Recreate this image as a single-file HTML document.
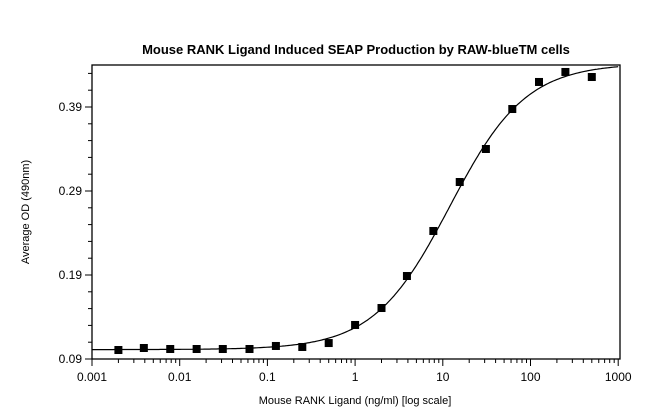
<!DOCTYPE html>
<html><head><meta charset="utf-8"><style>
body{margin:0;background:#fff;}
svg{display:block;font-family:"Liberation Sans",Arial,sans-serif;}
</style></head><body>
<svg id="chart" width="650" height="417" viewBox="0 0 650 417">
<text x="356" y="54" text-anchor="middle" font-size="13" font-weight="bold">Mouse RANK Ligand Induced SEAP Production by RAW-blueTM cells</text>
<rect x="92" y="65" width="528" height="294" fill="none" stroke="#000" stroke-width="1.3"/>
<g id="axes"></g>
<path id="fit" fill="none" stroke="#000" stroke-width="1.2"/>
<g id="pts"></g>
<text x="355" y="404" text-anchor="middle" font-size="11">Mouse RANK Ligand (ng/ml) [log scale]</text>
<text transform="translate(29,212) rotate(-90)" text-anchor="middle" font-size="11">Average OD (490nm)</text>
</svg>
<script>
const doses=[0.002,0.0039,0.0078,0.0156,0.031,0.0625,0.125,0.25,0.5,1,2,3.9,7.8,15.6,31,62,125,250,500];
const ods=[0.1007,0.1031,0.1019,0.1019,0.1019,0.1019,0.1055,0.1043,0.109,0.1305,0.1507,0.1888,0.2424,0.3007,0.34,0.3876,0.4198,0.4317,0.4257];
const xTicks=[0.001,0.01,0.1,1,10,100,1000];
const xTickLabels=["0.001","0.01","0.1","1","10","100","1000"];
const yTicks=[0.09,0.19,0.29,0.39];
const yTickLabels=["0.09","0.19","0.29","0.39"];
const fitBottom=0.1012, fitTop=0.442, fitEC50=12, fitHill=1.0;
const NS="http://www.w3.org/2000/svg";
const X=v=>92+(Math.log10(v)+3)*87.7;
const Y=v=>359-(v-0.09)*840;
const ax=document.getElementById('axes');
function mk(t,a,p){const e=document.createElementNS(NS,t);for(const k in a)e.setAttribute(k,a[k]);p.appendChild(e);return e;}
xTicks.forEach((t,i)=>{
 const x=X(t);
 const l=mk('line',{x1:x,x2:x,y1:359,y2:366,stroke:'#000'},ax);
 
 
 const tx=mk('text',{x:x,y:381,'text-anchor':'middle','font-size':12},ax);tx.textContent=xTickLabels[i];
 
 
 if(i<xTicks.length-1)for(let m=2;m<10;m++){const xm=X(t*m);mk('line',{x1:xm,x2:xm,y1:359,y2:363,stroke:'#000'},ax);}
});
for(let v=0.09;v<0.44;v+=0.02){const y=Y(v);mk('line',{x1:88,x2:92,y1:y,y2:y,stroke:'#000'},ax);}
yTicks.forEach((t,i)=>{
 const y=Y(t);
 const l=mk('line',{x1:85,x2:92,y1:y,y2:y,stroke:'#000'},ax);
 
 
 const tx=mk('text',{x:82,y:y+4,'text-anchor':'end','font-size':12},ax);tx.textContent=yTickLabels[i];
 
 
});
let d='';
for(let i=0;i<=300;i++){const lx=-3+6*i/300;const c=Math.pow(10,lx);
 const v=fitBottom+(fitTop-fitBottom)/(1+Math.pow(fitEC50/c,fitHill));
 d+=(i?'L':'M')+X(c).toFixed(1)+' '+Y(v).toFixed(1);}
document.getElementById('fit').setAttribute('d',d);
const pg=document.getElementById('pts');
doses.forEach((c,i)=>{
 const r=mk('rect',{x:X(c)-4,y:Y(ods[i])-4,width:8,height:8,fill:'#000'},pg);
 
 
});
</script>
</body></html>
